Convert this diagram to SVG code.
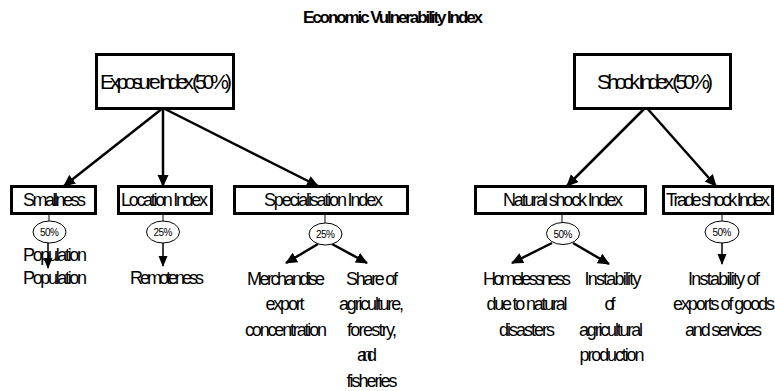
<svg xmlns="http://www.w3.org/2000/svg" width="775" height="391" viewBox="0 0 775 391">
<style>
text{font-family:"Liberation Sans",Arial,sans-serif;fill:#000}
.title{font-size:17px;font-weight:bold}
.big{font-size:21px}
.lbl{font-size:18px}
.pct{font-size:10px}
.box{fill:#fff;stroke:#000;stroke-width:3}
.ell{fill:#fff;stroke:#000;stroke-width:1}
.c1{stroke:#000;stroke-width:2.5;fill:none}
.c2{stroke:#000;stroke-width:1.5;fill:none}
.c3{stroke:#000;stroke-width:1;fill:none}
</style>
<defs>
<marker id="ah" markerUnits="userSpaceOnUse" markerWidth="12" markerHeight="12" viewBox="0 0 12 12" refX="11" refY="6" orient="auto"><path d="M0,0.5 L12,6 L0,11.5 z" fill="#000"/></marker>
<marker id="ahs" markerUnits="userSpaceOnUse" markerWidth="11" markerHeight="10" viewBox="0 0 11 10" refX="10" refY="5" orient="auto"><path d="M0,0.5 L11,5 L0,9.5 z" fill="#000"/></marker>
</defs>
<rect width="775" height="391" fill="#fff"/>
<text class="title" x="393" y="23" text-anchor="middle" textLength="180" lengthAdjust="spacing">Economic Vulnerability Index</text>

<g id="connectors">
<line class="c1" x1="163" y1="108" x2="64" y2="186" marker-end="url(#ah)"/>
<line class="c1" x1="163" y1="108" x2="163" y2="186" marker-end="url(#ah)"/>
<line class="c1" x1="163" y1="108" x2="318" y2="186" marker-end="url(#ah)"/>
<line class="c1" x1="646" y1="107" x2="567" y2="186" marker-end="url(#ah)"/>
<line class="c1" x1="646" y1="107" x2="716" y2="186" marker-end="url(#ah)"/>
<line class="c3" x1="49" y1="215" x2="49" y2="221"/>
<line class="c3" x1="163" y1="215" x2="163" y2="221"/>
<line class="c3" x1="325" y1="215" x2="325" y2="223"/>
<line class="c3" x1="562" y1="215" x2="562" y2="222"/>
<line class="c3" x1="722" y1="215" x2="722" y2="221"/>
<line class="c2" x1="48" y1="243" x2="48" y2="268" marker-end="url(#ahs)"/>
<line class="c2" x1="163" y1="243" x2="163" y2="266" marker-end="url(#ahs)"/>
<line class="c1" x1="318" y1="244" x2="286" y2="263" marker-end="url(#ah)"/>
<line class="c1" x1="332" y1="244" x2="367" y2="263" marker-end="url(#ah)"/>
<line class="c1" x1="552" y1="243" x2="512" y2="263" marker-end="url(#ah)"/>
<line class="c1" x1="573" y1="243" x2="609" y2="264" marker-end="url(#ah)"/>
<line class="c2" x1="722" y1="243" x2="722" y2="264" marker-end="url(#ahs)"/>
</g>

<g id="exposure">
<rect class="box" x="96.5" y="54.5" width="137" height="54"/>
<text class="big" x="166" y="89" text-anchor="middle" textLength="132" lengthAdjust="spacing">Exposure Index (50%)</text>
</g>
<g id="shock">
<rect class="box" x="574.5" y="54.5" width="156" height="54"/>
<text class="big" x="655" y="89" text-anchor="middle" textLength="116" lengthAdjust="spacing">Shock Index (50%)</text>
</g>

<g id="smallness">
<rect class="box" x="11.5" y="186.5" width="84" height="27"/>
<text class="lbl" x="54.5" y="206" text-anchor="middle" textLength="63" lengthAdjust="spacing">Smallness</text>
<ellipse class="ell" cx="49.5" cy="232" rx="16.5" ry="11"/>
<text class="pct" x="49.5" y="236" text-anchor="middle" textLength="19" lengthAdjust="spacing">50%</text>
<text class="lbl" x="55" y="261" text-anchor="middle" textLength="64" lengthAdjust="spacing">Population</text>
<text class="lbl" x="55" y="284" text-anchor="middle" textLength="64" lengthAdjust="spacing">Population</text>
</g>

<g id="location">
<rect class="box" x="118.5" y="186.5" width="93" height="27"/>
<text class="lbl" x="164.5" y="206" text-anchor="middle" textLength="87" lengthAdjust="spacing">Location Index</text>
<ellipse class="ell" cx="163" cy="232" rx="16.5" ry="11"/>
<text class="pct" x="163" y="236" text-anchor="middle" textLength="19" lengthAdjust="spacing">25%</text>
<text class="lbl" x="167" y="284" text-anchor="middle" textLength="74" lengthAdjust="spacing">Remoteness</text>
</g>

<g id="specialisation">
<rect class="box" x="234.5" y="186.5" width="173" height="27"/>
<text class="lbl" x="323.5" y="206" text-anchor="middle" textLength="119" lengthAdjust="spacing">Specialisation Index</text>
<ellipse class="ell" cx="325.5" cy="234" rx="16.5" ry="11"/>
<text class="pct" x="325.5" y="238" text-anchor="middle" textLength="19" lengthAdjust="spacing">25%</text>
<text class="lbl" x="286" y="285" text-anchor="middle" textLength="78" lengthAdjust="spacing">Merchandise</text>
<text class="lbl" x="285" y="310" text-anchor="middle" textLength="39" lengthAdjust="spacing">export</text>
<text class="lbl" x="286" y="336" text-anchor="middle" textLength="82" lengthAdjust="spacing">concentration</text>
<text class="lbl" x="372" y="285" text-anchor="middle" textLength="52" lengthAdjust="spacing">Share of</text>
<text class="lbl" x="371.5" y="310" text-anchor="middle" textLength="65" lengthAdjust="spacing">agriculture,</text>
<text class="lbl" x="372" y="336" text-anchor="middle" textLength="50" lengthAdjust="spacing">forestry,</text>
<text class="lbl" x="367" y="361" text-anchor="middle" textLength="20" lengthAdjust="spacing">and</text>
<text class="lbl" x="372" y="387" text-anchor="middle" textLength="51" lengthAdjust="spacing">fisheries</text>
</g>

<g id="natural">
<rect class="box" x="475.5" y="186.5" width="170" height="27"/>
<text class="lbl" x="563" y="206" text-anchor="middle" textLength="120" lengthAdjust="spacing">Natural shock Index</text>
<ellipse class="ell" cx="563" cy="233.5" rx="16.5" ry="11"/>
<text class="pct" x="563" y="237.5" text-anchor="middle" textLength="19" lengthAdjust="spacing">50%</text>
<text class="lbl" x="527" y="285" text-anchor="middle" textLength="88" lengthAdjust="spacing">Homelessness</text>
<text class="lbl" x="527" y="310" text-anchor="middle" textLength="81" lengthAdjust="spacing">due to natural</text>
<text class="lbl" x="527" y="336" text-anchor="middle" textLength="56" lengthAdjust="spacing">disasters</text>
<text class="lbl" x="613" y="285" text-anchor="middle" textLength="57" lengthAdjust="spacing">Instability</text>
<text class="lbl" x="610" y="310" text-anchor="middle" textLength="11" lengthAdjust="spacing">of</text>
<text class="lbl" x="611" y="336" text-anchor="middle" textLength="64" lengthAdjust="spacing">agricultural</text>
<text class="lbl" x="612" y="361" text-anchor="middle" textLength="65" lengthAdjust="spacing">production</text>
</g>

<g id="trade">
<rect class="box" x="663.5" y="186.5" width="109" height="27"/>
<text class="lbl" x="666" y="206" textLength="104" lengthAdjust="spacing">Trade shock Index</text>
<ellipse class="ell" cx="722" cy="232" rx="17" ry="11"/>
<text class="pct" x="722" y="236" text-anchor="middle" textLength="19" lengthAdjust="spacing">50%</text>
<text class="lbl" x="724" y="285" text-anchor="middle" textLength="72" lengthAdjust="spacing">Instability of</text>
<text class="lbl" x="724" y="310" text-anchor="middle" textLength="102" lengthAdjust="spacing">exports of goods</text>
<text class="lbl" x="723.5" y="336" text-anchor="middle" textLength="77" lengthAdjust="spacing">and services</text>
</g>
</svg>
